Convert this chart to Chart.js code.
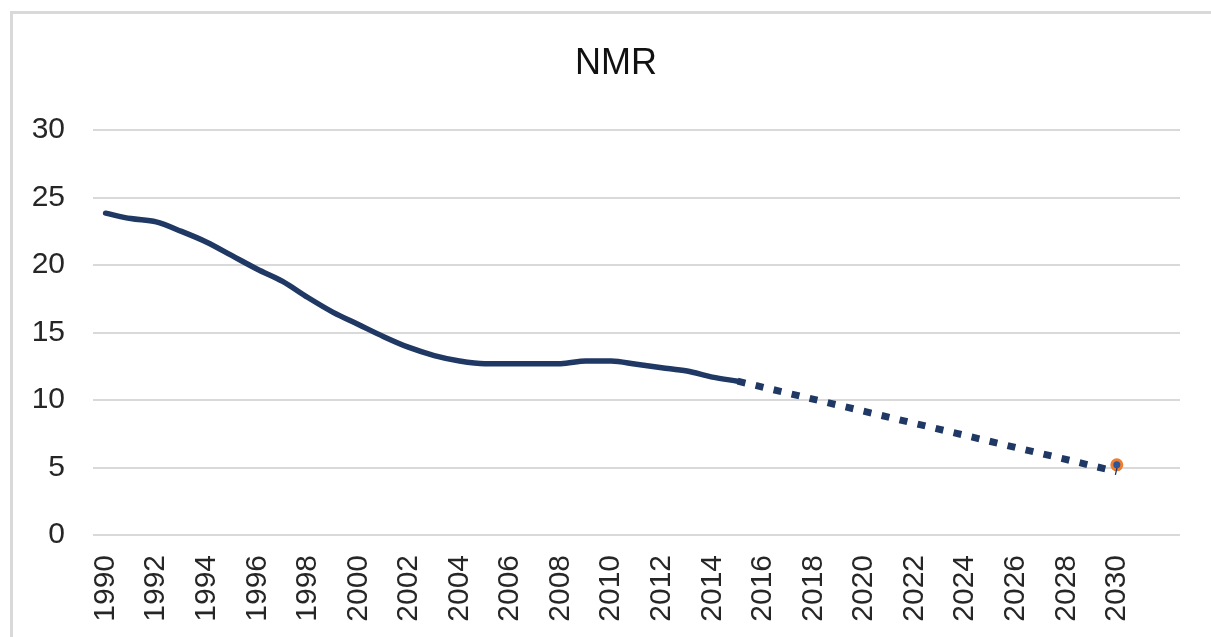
<!DOCTYPE html>
<html>
<head>
<meta charset="utf-8">
<script src="https://cdn.jsdelivr.net/npm/chart.js@4.4.1/dist/chart.umd.min.js"></script>
<style>
  html, body { margin: 0; padding: 0; background: #ffffff; overflow: hidden; }
  #frame { position: absolute; left: 10px; top: 11px; width: 1300px; height: 700px;
           border-left: 3px solid #d9d9d9; border-top: 3px solid #d9d9d9; box-sizing: border-box; }
  #wrap { position: absolute; left: 0; top: 0; width: 1211px; height: 637px; }
</style>
</head>
<body>
<div id="frame"></div>
<div id="wrap"><canvas id="c" width="1211" height="637"></canvas></div>
<script>
// ---- data ----
const years = [];
for (let y = 1990; y <= 2032; y++) years.push(String(y));
const lastLabeledYear = 2030;

// NMR observed, 1990-2015
const nmrActual = [23.85, 23.45, 23.2, 22.5, 21.7, 20.7, 19.7, 18.8, 17.6, 16.5,
                   15.6, 14.7, 13.9, 13.3, 12.9, 12.7, 12.7, 12.7, 12.7, 12.9,
                   12.9, 12.65, 12.4, 12.15, 11.7, 11.4];
// projection: 2015 start and 2030 end
const projStartYear = 2015, projStartValue = 11.4;
const projEndYear = 2030, projEndValue = 4.7;
// target point 2030
const targetYear = 2030, targetValue = 5.2;

const yTicks = [0, 5, 10, 15, 20, 25, 30];

// ---- build series aligned to categories ----
const actualSeries = years.map((y, i) => i < nmrActual.length ? nmrActual[i] : null);
const projSeries = years.map(y => +y === projStartYear ? projStartValue : (+y === projEndYear ? projEndValue : null));
const targetSeries = years.map(y => +y === targetYear ? targetValue : null);

Chart.defaults.font.family = "'Liberation Sans', Arial, sans-serif";

const navy = '#1f3864';

// shift the title's centring box so it sits where the original title sits
const titleShift = {
  id: 'titleShift',
  afterLayout(chart) {
    if (chart.titleBlock) chart.titleBlock.left += 31;
  }
};

new Chart(document.getElementById('c'), {
  type: 'line',
  data: {
    labels: years,
    datasets: [
      {
        label: 'NMR',
        data: actualSeries,
        borderColor: navy,
        borderWidth: 5.5,
        pointRadius: 0,
        cubicInterpolationMode: 'monotone',
        borderCapStyle: 'round',
        spanGaps: false,
        order: 1
      },
      {
        label: 'Projection',
        data: projSeries,
        borderColor: navy,
        borderWidth: 7,
        borderDash: [8, 10.5],
        borderCapStyle: 'butt',
        pointRadius: 0,
        spanGaps: true,
        order: 2
      },
      {
        label: 'Target',
        data: targetSeries,
        showLine: false,
        pointRadius: 5,
        pointBackgroundColor: '#2f5597',
        pointBorderColor: '#ed7d31',
        pointBorderWidth: 3,
        order: 3
      }
    ]
  },
  plugins: [titleShift],
  options: {
    responsive: false,
    animation: false,
    layout: { padding: { left: 21, right: 31, top: 0, bottom: 0 } },
    plugins: {
      legend: { display: false },
      tooltip: { enabled: false },
      title: {
        display: true,
        text: 'NMR',
        color: '#111111',
        font: { size: 36, weight: 'normal' },
        padding: { top: 42, bottom: 45 }
      }
    },
    scales: {
      x: {
        type: 'category',
        offset: true,
        grid: { display: false, drawTicks: false },
        border: { display: false },
        ticks: {
          autoSkip: false,
          minRotation: 90,
          maxRotation: 90,
          padding: 20,
          color: '#262626',
          font: { size: 30 },
          callback: function (val, idx) {
            const lab = this.getLabelForValue(val);
            return (idx % 2 === 0 && +lab <= lastLabeledYear) ? lab : '';
          }
        },
        afterFit: function (scale) {
          scale.height = 102;
          scale.paddingLeft = 0;
          scale.paddingRight = 0;
        }
      },
      y: {
        min: 0,
        max: 30,
        afterBuildTicks: function (scale) { scale.ticks = yTicks.map(v => ({ value: v })); },
        grid: { color: '#d9d9d9', lineWidth: 2, drawTicks: false },
        border: { display: false },
        ticks: {
          padding: 28,
          color: '#262626',
          font: { size: 30 }
        },
        afterFit: function (scale) {
          scale.width = 72;
          scale.paddingTop = 0;
          scale.paddingBottom = 0;
        }
      }
    }
  }
});
</script>
</body>
</html>
